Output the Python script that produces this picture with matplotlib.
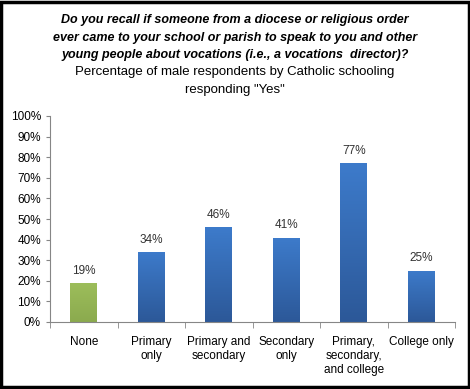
import numpy as np
import matplotlib.pyplot as plt
from matplotlib.patches import Rectangle
from matplotlib.colors import LinearSegmentedColormap

categories = ['None', 'Primary\nonly', 'Primary and\nsecondary', 'Secondary\nonly',
              'Primary,\nsecondary,\nand college', 'College only']
values = [19, 34, 46, 41, 77, 25]
top_colors = ['#9DBE5B', '#3D7BCB', '#3D7BCB', '#3D7BCB', '#3D7BCB', '#3D7BCB']
bottom_colors = ['#8BAA4E', '#2C5898', '#2C5898', '#2C5898', '#2C5898', '#2C5898']

plt.rcParams['font.family'] = ['Liberation Sans', 'DejaVu Sans']

fig = plt.figure(figsize=(4.7, 3.89), dpi=100)
ax = fig.add_axes([50 / 470, 1 - 322 / 389, 405 / 470, 206 / 389])

x = np.arange(len(categories))
bars = ax.bar(x, values, width=0.4, color=top_colors)
grad = np.linspace(0, 1, 256).reshape(-1, 1)
for b, ct, cb in zip(bars, top_colors, bottom_colors):
    cmap = LinearSegmentedColormap.from_list('g', [cb, ct])
    bx, by = b.get_x(), b.get_y()
    w, h = b.get_width(), b.get_height()
    im = ax.imshow(grad, cmap=cmap, origin='lower', aspect='auto',
                   extent=[bx, bx + w, by, by + h], zorder=2)
    im.set_clip_path(b)
for xi, v in zip(x, values):
    ax.text(xi, v + 3, f'{v}%', ha='center', va='bottom', fontsize=8.5, color='#333333')

ax.set_xlim(-0.5, len(categories) - 0.5)
ax.set_ylim(0, 100)
ax.set_yticks(np.arange(0, 101, 10))
ax.set_yticklabels([f'{t}%' for t in range(0, 101, 10)], fontsize=8.5)
ax.set_xticks(x)
ax.set_xticklabels(categories, fontsize=8.5, linespacing=1.25)
ax.set_xticks(np.arange(-0.5, len(categories), 1), minor=True)
ax.tick_params(axis='x', which='major', length=0, pad=10)
ax.tick_params(axis='x', which='minor', length=4, color='#868686')
ax.tick_params(axis='y', length=3, color='#868686')
for s in ['top', 'right']:
    ax.spines[s].set_visible(False)
for s in ['left', 'bottom']:
    ax.spines[s].set_color('#868686')

title_lines = ['Do you recall if someone from a diocese or religious order',
               'ever came to your school or parish to speak to you and other',
               'young people about vocations (i.e., a vocations  director)?']
sub_lines = ['Percentage of male respondents by Catholic schooling', 'responding "Yes"']
for i, t in enumerate(title_lines):
    fig.text(0.5, 1 - (20 + 17.5 * i) / 389, t, ha='center', va='center',
             fontsize=9, fontweight='bold', style='italic')
for i, t in enumerate(sub_lines):
    fig.text(0.5, 1 - (72 + 17.5 * i) / 389, t, ha='center', va='center', fontsize=9.5)

fig.patches.append(Rectangle((0.003, 0.004), 0.994, 0.992, transform=fig.transFigure,
                             fill=False, edgecolor='black', linewidth=2.5))

fig.savefig('out.png', dpi=100)
